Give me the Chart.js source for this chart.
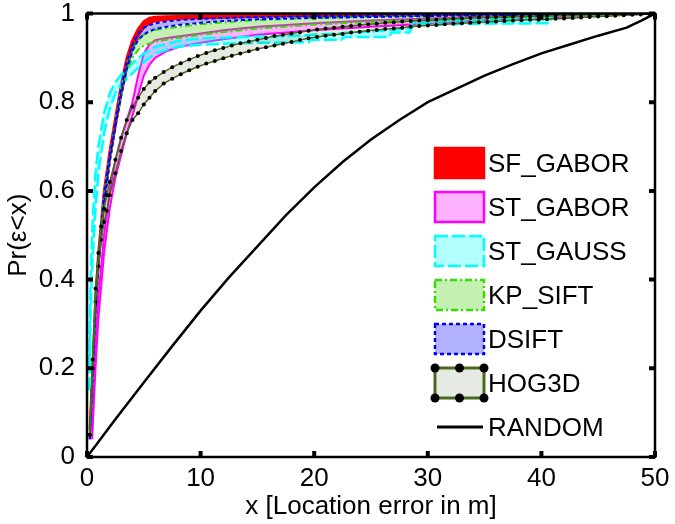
<!DOCTYPE html>
<html lang="en">
<head>
<meta charset="UTF-8">
<title>Location error CDF</title>
<script src="https://cdn.jsdelivr.net/npm/chart.js@4.4.1/dist/chart.umd.min.js"></script>
<style>
  html, body { margin: 0; padding: 0; background: #fff; }
  #wrap { width: 675px; height: 524px; }
</style>
</head>
<body>
<div id="wrap"><canvas id="cdf"></canvas></div>
<script>
// location error grid (m) shared by SF_GABOR, KP_SIFT, DSIFT
const errX = [0.25, 0.5, 0.75, 1, 1.5, 2, 2.5, 3, 3.5, 4, 4.5, 5, 5.5, 6, 7, 8, 10, 12, 15, 20, 25, 30, 35, 40, 45, 50];
const sfHi = [0.06, 0.21, 0.36, 0.46, 0.6, 0.69, 0.765, 0.84, 0.9, 0.94, 0.965, 0.982, 0.99, 0.992, 0.993, 0.994, 0.995, 0.996, 0.997, 0.998, 0.998, 0.999, 0.999, 1, 1, 1];
const sfLo = [0.04, 0.18, 0.33, 0.43, 0.57, 0.67, 0.745, 0.815, 0.875, 0.92, 0.95, 0.968, 0.978, 0.983, 0.986, 0.988, 0.99, 0.991, 0.993, 0.995, 0.996, 0.997, 0.998, 0.999, 1, 1];
const kpHi = [0.05, 0.2, 0.35, 0.45, 0.59, 0.68, 0.755, 0.83, 0.885, 0.92, 0.94, 0.952, 0.958, 0.963, 0.967, 0.97, 0.976, 0.98, 0.985, 0.99, 0.993, 0.995, 0.997, 0.998, 0.999, 1];
const kpLo = [0.04, 0.18, 0.33, 0.43, 0.57, 0.665, 0.745, 0.815, 0.87, 0.9, 0.918, 0.928, 0.932, 0.936, 0.941, 0.945, 0.952, 0.958, 0.966, 0.975, 0.981, 0.986, 0.99, 0.993, 0.997, 1];
const dsHi = [0.05, 0.2, 0.35, 0.45, 0.59, 0.68, 0.755, 0.83, 0.89, 0.93, 0.955, 0.968, 0.974, 0.978, 0.982, 0.985, 0.988, 0.99, 0.992, 0.994, 0.995, 0.996, 0.997, 0.998, 0.999, 1];
const dsLo = [0.04, 0.18, 0.33, 0.43, 0.57, 0.665, 0.745, 0.815, 0.875, 0.915, 0.94, 0.953, 0.96, 0.965, 0.97, 0.974, 0.979, 0.983, 0.987, 0.99, 0.992, 0.994, 0.996, 0.997, 0.999, 1];

// ST_GABOR
const gaborX = [0.45, 0.75, 1, 1.5, 2, 2.5, 3, 3.5, 4, 4.5, 5, 5.5, 6, 7, 8, 10, 12, 15, 20, 25, 30, 35, 40, 45, 50];
const stHi = [0.06, 0.24, 0.36, 0.5, 0.6, 0.67, 0.72, 0.76, 0.8, 0.86, 0.91, 0.93, 0.94, 0.945, 0.948, 0.955, 0.962, 0.97, 0.978, 0.984, 0.989, 0.993, 0.996, 0.998, 1];
const stLo = [0.04, 0.2, 0.31, 0.46, 0.56, 0.63, 0.68, 0.73, 0.77, 0.815, 0.86, 0.885, 0.9, 0.915, 0.924, 0.934, 0.942, 0.952, 0.962, 0.97, 0.977, 0.985, 0.99, 0.995, 1];

// ST_GAUSS (has small steps in the flat part)
const gaussX = [0.2, 0.3, 0.4, 0.5, 0.75, 1, 1.5, 2, 2.5, 3, 4, 5, 6, 8, 10, 15, 19.5, 19.7, 22.4, 22.6, 26.6, 26.8, 28.4, 28.7, 35, 40.7, 41, 45, 50];
const gsHi = [0.2, 0.38, 0.47, 0.53, 0.64, 0.7, 0.775, 0.82, 0.845, 0.862, 0.888, 0.91, 0.925, 0.938, 0.944, 0.948, 0.951, 0.952, 0.955, 0.956, 0.962, 0.963, 0.967, 0.98, 0.986, 0.99, 0.998, 0.999, 1];
const gsLo = [0.15, 0.3, 0.39, 0.45, 0.56, 0.64, 0.73, 0.785, 0.82, 0.84, 0.865, 0.89, 0.91, 0.925, 0.93, 0.934, 0.935, 0.941, 0.941, 0.947, 0.947, 0.957, 0.957, 0.975, 0.977, 0.978, 0.995, 0.997, 1];

// HOG3D (marker at every sample)
const hogX = [0.25, 0.5, 0.75, 1, 1.25, 1.5, 1.75, 2, 2.5, 3, 3.5, 4, 4.5, 5, 5.5, 6,
  6.75, 7.5, 8.25, 9, 9.75, 10.5, 11.25, 12, 12.75, 13.5, 14.25, 15, 15.75, 16.5, 17.25, 18,
  18.75, 19.5, 20.25, 21, 21.75, 22.5, 23.25, 24, 24.75, 25.5, 26.25, 27, 27.75, 28.5, 29.25, 30,
  30.75, 31.5, 32.25, 33, 33.75, 34.5, 35.25, 36, 36.75, 37.5, 38.25, 39, 39.75, 40.5, 41.25, 42,
  42.75, 43.5, 44.25, 45, 45.75, 46.5, 47.25, 48, 48.75, 49.5, 50];
const hogHi = [0.05, 0.22, 0.38, 0.46, 0.52, 0.56, 0.59, 0.62, 0.67, 0.72, 0.76, 0.79, 0.81, 0.83, 0.845, 0.855,
  0.868, 0.879, 0.888, 0.896, 0.904, 0.911, 0.917, 0.922, 0.928, 0.933, 0.937, 0.941, 0.945, 0.949, 0.952, 0.955,
  0.958, 0.961, 0.964, 0.966, 0.968, 0.970, 0.972, 0.974, 0.976, 0.977, 0.979, 0.980, 0.982, 0.983, 0.984, 0.985,
  0.986, 0.987, 0.988, 0.989, 0.990, 0.991, 0.991, 0.992, 0.992, 0.993, 0.993, 0.994, 0.994, 0.995, 0.995, 0.996,
  0.996, 0.997, 0.997, 0.997, 0.998, 0.998, 0.999, 0.999, 1, 1, 1];
const hogLo = [0.05, 0.2, 0.35, 0.43, 0.49, 0.53, 0.555, 0.59, 0.64, 0.69, 0.73, 0.76, 0.775, 0.795, 0.81, 0.825,
  0.842, 0.853, 0.863, 0.872, 0.88, 0.887, 0.893, 0.899, 0.905, 0.91, 0.915, 0.92, 0.924, 0.928, 0.932, 0.936,
  0.94, 0.944, 0.947, 0.95, 0.952, 0.954, 0.957, 0.959, 0.961, 0.963, 0.965, 0.966, 0.968, 0.97, 0.972, 0.973,
  0.974, 0.976, 0.977, 0.978, 0.979, 0.98, 0.981, 0.982, 0.983, 0.984, 0.985, 0.986, 0.986, 0.987, 0.988, 0.989,
  0.99, 0.991, 0.992, 0.993, 0.994, 0.995, 0.996, 0.997, 0.998, 0.999, 1];

// RANDOM baseline
const randX = [0, 2.5, 5, 7.5, 10, 12.5, 15, 17.5, 20, 22.5, 25, 27.5, 30, 32.5, 35, 37.5, 40, 42.5, 45, 47.5, 48.8, 50];
const randY = [0, 0.085, 0.168, 0.25, 0.33, 0.405, 0.475, 0.545, 0.608, 0.665, 0.716, 0.76, 0.8, 0.83, 0.86, 0.886, 0.91, 0.93, 0.95, 0.968, 0.984, 1];

const xTicks = [0, 10, 20, 30, 40, 50];
const yTicks = [0, 0.2, 0.4, 0.6, 0.8, 1];

const FONT = '"Liberation Sans", Arial, Helvetica, sans-serif';

const pts = (xs, ys) => xs.map((x, i) => ({ x: x, y: ys[i] }));

// legend order and styles
const methods = [
  { label: 'SF_GABOR', xs: errX, hi: sfHi, lo: sfLo, line: '#ff0000', fill: '#ff0000', dash: [], width: 2.5 },
  { label: 'ST_GABOR', xs: gaborX, hi: stHi, lo: stLo, line: '#ff00ff', fill: 'rgba(255,0,255,0.3)', dash: [], width: 2 },
  { label: 'ST_GAUSS', xs: gaussX, hi: gsHi, lo: gsLo, line: '#00ffff', fill: 'rgba(0,255,255,0.3)', dash: [13, 4], width: 2.5 },
  { label: 'KP_SIFT', xs: errX, hi: kpHi, lo: kpLo, line: '#33dd00', fill: 'rgba(60,210,0,0.3)', dash: [7, 3, 2, 3], width: 2 },
  { label: 'DSIFT', xs: errX, hi: dsHi, lo: dsLo, line: '#0000ff', fill: 'rgba(0,0,255,0.3)', dash: [4, 3], width: 2 },
  { label: 'HOG3D', xs: hogX, hi: hogHi, lo: hogLo, line: '#4b6a1e', fill: 'rgba(60,80,20,0.12)', dash: [], width: 1.5, dots: true }
];

const datasets = [];
methods.forEach((m, k) => {
  const base = {
    borderColor: m.line,
    backgroundColor: m.fill,
    borderDash: m.dash,
    borderWidth: m.width,
    pointRadius: m.dots ? 2 : 0,
    pointBackgroundColor: '#000',
    pointBorderWidth: 0,
    tension: 0,
    order: methods.length - k
  };
  datasets.push(Object.assign({}, base, { label: m.label, data: pts(m.xs, m.hi), fill: false }));
  datasets.push(Object.assign({}, base, { label: m.label + ' low', data: pts(m.xs, m.lo), fill: '-1' }));
});
datasets.push({
  label: 'RANDOM', data: pts(randX, randY), borderColor: '#000', borderWidth: 2.5,
  pointRadius: 0, fill: false, tension: 0, order: 0
});

// box and inward ticks, MATLAB style
const framePlugin = {
  id: 'frame',
  afterDatasetsDraw(chart) {
    const { ctx, chartArea: a, scales } = chart;
    ctx.save();
    ctx.strokeStyle = '#000';
    ctx.lineWidth = 2.5;
    ctx.strokeRect(a.left, a.top, a.width, a.height);
    ctx.lineWidth = 4;
    ctx.beginPath();
    xTicks.forEach(v => {
      const px = scales.x.getPixelForValue(v);
      ctx.moveTo(px, a.bottom); ctx.lineTo(px, a.bottom - 6);
      ctx.moveTo(px, a.top); ctx.lineTo(px, a.top + 6);
    });
    yTicks.forEach(v => {
      const py = scales.y.getPixelForValue(v);
      ctx.moveTo(a.left, py); ctx.lineTo(a.left + 6, py);
      ctx.moveTo(a.right, py); ctx.lineTo(a.right - 6, py);
    });
    ctx.stroke();
    ctx.restore();
  }
};

// legend drawn inside the axes
const legendPlugin = {
  id: 'insideLegend',
  afterDraw(chart) {
    const { ctx, chartArea: a } = chart;
    const bx = a.right - 220, bw = 49, bh = 30, step = 44;
    let cy = a.top + 149.5;
    ctx.save();
    ctx.font = '26px ' + FONT;
    ctx.textBaseline = 'middle';
    methods.forEach(m => {
      ctx.fillStyle = '#fff';
      ctx.fillRect(bx, cy - bh / 2, bw, bh);
      ctx.fillStyle = m.fill;
      ctx.fillRect(bx, cy - bh / 2, bw, bh);
      ctx.strokeStyle = m.line;
      ctx.lineWidth = m.dots ? 3 : 2.5;
      ctx.setLineDash(m.dash);
      ctx.strokeRect(bx, cy - bh / 2, bw, bh);
      ctx.setLineDash([]);
      if (m.dots) {
        ctx.fillStyle = '#000';
        [bx, bx + bw / 2, bx + bw].forEach(px => {
          [cy - bh / 2, cy + bh / 2].forEach(py => {
            ctx.beginPath(); ctx.arc(px, py, 4.5, 0, Math.PI * 2); ctx.fill();
          });
        });
      }
      ctx.fillStyle = '#000';
      ctx.fillText(m.label, bx + bw + 4, cy + 2);
      cy += step;
    });
    ctx.strokeStyle = '#000';
    ctx.lineWidth = 3;
    ctx.beginPath(); ctx.moveTo(bx + 2, cy); ctx.lineTo(bx + 48, cy); ctx.stroke();
    ctx.fillStyle = '#000';
    ctx.fillText('RANDOM', bx + bw + 4, cy + 2);
    ctx.restore();
  }
};

new Chart(document.getElementById('cdf'), {
  type: 'line',
  data: { datasets: datasets },
  plugins: [framePlugin, legendPlugin],
  options: {
    responsive: true,
    maintainAspectRatio: false,
    animation: false,
    devicePixelRatio: 1,
    layout: { padding: { top: 13.5, right: 20, left: 0, bottom: 0 } },
    plugins: { legend: { display: false }, tooltip: { enabled: false } },
    scales: {
      x: {
        type: 'linear', min: 0, max: 50,
        afterBuildTicks: s => { s.ticks = xTicks.map(v => ({ value: v })); },
        afterFit: s => { s.height = 67; s.paddingLeft = 0; s.paddingRight = 0; },
        grid: { display: false, drawTicks: false },
        border: { display: false },
        ticks: { color: '#000', padding: 9, font: { family: FONT, size: 26, lineHeight: 1 } },
        title: { display: true, text: 'x [Location error in m]', color: '#000', padding: { top: 0, bottom: 2 },
                 font: { family: FONT, size: 26 } }
      },
      y: {
        type: 'linear', min: 0, max: 1,
        afterBuildTicks: s => { s.ticks = yTicks.map(v => ({ value: v })); },
        afterFit: s => { s.width = 87; s.paddingTop = 0; s.paddingBottom = 0; },
        grid: { display: false, drawTicks: false },
        border: { display: false },
        ticks: { color: '#000', padding: 12, font: { family: FONT, size: 26, lineHeight: 1 },
                 callback: v => String(+v.toFixed(1)) },
        title: { display: true, text: 'Pr(ε<x)', color: '#000', padding: { top: 3, bottom: 0 },
                 font: { family: FONT, size: 26 } }
      }
    }
  }
});
</script>
</body>
</html>
